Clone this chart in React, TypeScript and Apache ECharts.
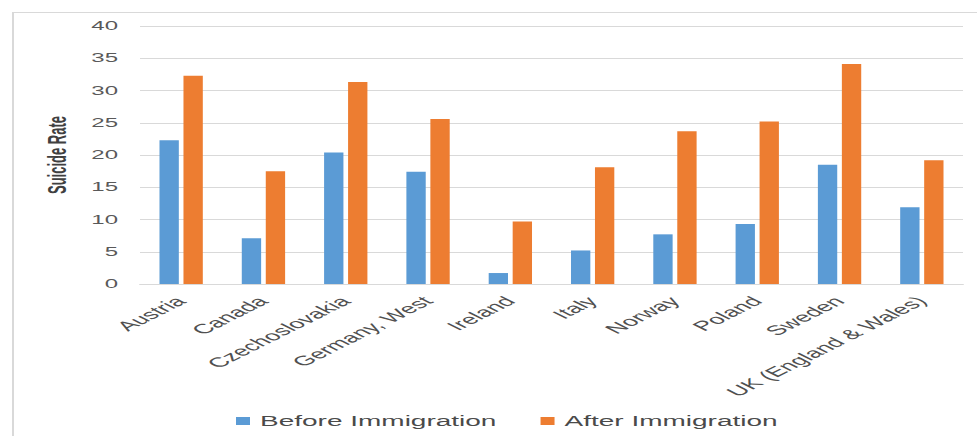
import React, { useEffect, useRef } from "react";
import * as echarts from "echarts";

// Suicide rates by country of origin, before and after immigration
const countries = [
  "Austria",
  "Canada",
  "Czechoslovakia",
  "Germany, West",
  "Ireland",
  "Italy",
  "Norway",
  "Poland",
  "Sweden",
  "UK (England & Wales)",
];
const beforeImmigration = [22.3, 7.1, 20.4, 17.4, 1.7, 5.2, 7.7, 9.3, 18.5, 11.9];
const afterImmigration = [32.3, 17.5, 31.3, 25.6, 9.7, 18.1, 23.7, 25.2, 34.1, 19.2];
const seriesNames = ["Before Immigration", "After Immigration"];
const yTicks = { min: 0, max: 40, interval: 5 };

// The chart is laid out at half width and widened by a horizontal scale.
const STRETCH = 2;
const PAGE_W = 977;
const PAGE_H = 436;

const FONT = "'Liberation Sans', Arial, sans-serif";
const TEXT = "#595959";
const GRID = "#d9d9d9";

export default function App() {
  const ref = useRef<HTMLDivElement>(null);

  useEffect(() => {
    if (!ref.current) return;
    const chart = echarts.init(ref.current, undefined, { renderer: "svg" });
    chart.setOption({
      animation: false,
      backgroundColor: "#ffffff",
      textStyle: { fontFamily: FONT },
      graphic: [
        {
          type: "rect",
          left: 4,
          top: 10,
          shape: { width: 600, height: 500 },
          style: { fill: "none", stroke: GRID, lineWidth: 1 },
          silent: true,
        },
      ],
      grid: { left: 70, right: 7.5, top: 26, bottom: 152 },
      legend: {
        left: 118,
        top: 414,
        padding: 0,
        itemWidth: 7,
        itemHeight: 8,
        itemGap: 22,
        icon: "rect",
        textStyle: { color: "#4a4a4a", fontSize: 14, fontFamily: FONT },
        data: seriesNames,
      },
      xAxis: {
        type: "category",
        data: countries,
        axisLine: { lineStyle: { color: GRID } },
        axisTick: { show: false },
        axisLabel: {
          rotate: 45,
          interval: 0,
          margin: 15,
          color: "#505050",
          fontSize: 13.5,
          fontFamily: FONT,
        },
      },
      yAxis: {
        type: "value",
        min: yTicks.min,
        max: yTicks.max,
        interval: yTicks.interval,
        name: "Suicide Rate",
        nameLocation: "middle",
        nameRotate: 90,
        nameGap: 27,
        nameTextStyle: { color: "#404040", fontSize: 13, fontWeight: "bold", fontFamily: FONT },
        axisLine: { show: false },
        axisTick: { show: false },
        splitLine: { lineStyle: { color: GRID, width: 1 } },
        axisLabel: { color: TEXT, fontSize: 12, margin: 11, fontFamily: FONT },
      },
      series: [
        {
          name: seriesNames[0],
          type: "bar",
          data: beforeImmigration,
          barWidth: "23.5%",
          barGap: "24%",
          itemStyle: { color: "#5B9BD5" },
        },
        {
          name: seriesNames[1],
          type: "bar",
          data: afterImmigration,
          barWidth: "23.5%",
          itemStyle: { color: "#ED7D31" },
        },
      ],
    });
    return () => chart.dispose();
  }, []);

  return (
    <div
      style={{
        position: "fixed",
        left: 0,
        top: 0,
        width: PAGE_W,
        height: PAGE_H,
        overflow: "hidden",
        background: "#ffffff",
      }}
    >
      <div
        ref={ref}
        style={{
          width: PAGE_W / STRETCH,
          height: PAGE_H,
          transform: `scaleX(${STRETCH})`,
          transformOrigin: "0 0",
        }}
      />
    </div>
  );
}
